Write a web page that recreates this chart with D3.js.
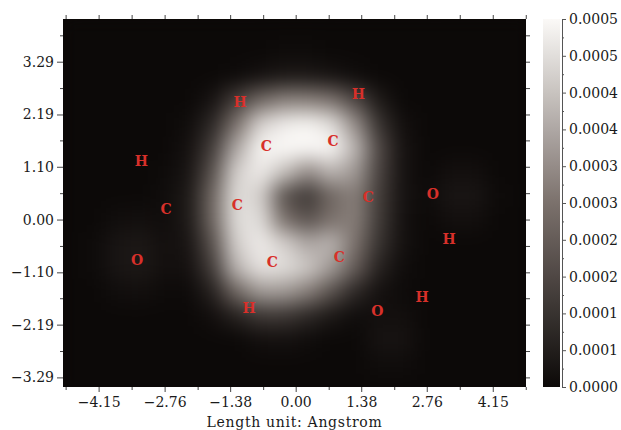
<!DOCTYPE html>
<html>
<head>
<meta charset="utf-8">
<script src="https://cdn.jsdelivr.net/npm/d3@7"></script>
<style>
  body { margin: 0; background: #fff; }
  text { font-family: "DejaVu Serif", serif; }
</style>
</head>
<body>
<svg width="621" height="430"></svg>
<script>
// electron density on a 0.5 Angstrom grid, in units of 1e-4
const gridX = [-4.75, -4.25, -3.75, -3.25, -2.75, -2.25, -1.75, -1.25, -0.75, -0.25,
                0.25, 0.75, 1.25, 1.75, 2.25, 2.75, 3.25, 3.75, 4.25, 4.75];
const gridY = [4.0, 3.5, 3.0, 2.5, 2.0, 1.5, 1.0, 0.5, 0.0, -0.5, -1.0, -1.5, -2.0, -2.5, -3.0, -3.5];
const density = [
  [0,0,0,0,0,0,0,0,0,0,0,0,0,0,0,0,0,0,0,0],
  [0,0,0,0,0,0,0,0,0,0.05,0.05,0,0,0,0,0,0,0,0,0],
  [0,0,0,0,0,0,0,0.05,0.2,0.35,0.35,0.25,0.1,0,0,0,0,0,0,0],
  [0,0,0,0,0,0,0.25,1.25,2.25,2.75,2.75,2.5,1.5,0.4,0,0,0,0,0,0],
  [0,0,0,0,0,0.1,0.75,2.5,4.25,4.75,4.9,4.5,3.0,1.0,0.15,0,0,0,0,0],
  [0,0,0,0,0,0.2,1.25,3.5,4.9,5.2,5.2,5.1,3.75,1.5,0.25,0,0,0,0,0],
  [0,0,0,0,0.05,0.3,1.75,4.25,4.75,4.0,3.0,3.75,3.25,1.4,0.25,0,0.15,0.15,0,0],
  [0,0,0,0,0.1,0.4,2.25,4.5,4.25,1.75,1.1,2.25,2.75,1.25,0.25,0.05,0.3,0.3,0.05,0],
  [0,0,0.12,0.15,0.1,0.4,2.25,4.5,4.5,2.5,1.75,2.5,2.75,1.2,0.2,0,0.15,0.15,0,0],
  [0,0.05,0.3,0.35,0.15,0.3,1.75,4.25,4.75,4.25,3.5,3.75,2.5,1.0,0.2,0,0,0,0,0],
  [0,0.05,0.3,0.35,0.15,0.2,1.25,3.75,4.6,4.5,4.1,3.25,2.0,0.6,0.1,0,0,0,0,0],
  [0,0,0.12,0.15,0.05,0.05,0.6,2.25,3.25,3.25,2.75,1.75,0.75,0.2,0.05,0,0,0,0,0],
  [0,0,0,0,0,0,0.15,0.6,1.1,1.1,0.75,0.35,0.1,0.15,0.15,0,0,0,0,0],
  [0,0,0,0,0,0,0,0,0.15,0.2,0.1,0,0,0.25,0.25,0,0,0,0,0],
  [0,0,0,0,0,0,0,0,0,0,0,0,0,0.1,0.1,0,0,0,0,0],
  [0,0,0,0,0,0,0,0,0,0,0,0,0,0,0,0,0,0,0,0]
];

// atom labels (Angstrom)
const atomLabels = ["H","H","C","C","H","C","C","C","O","H","O","C","C","H","H","O"];
const atomX = [-1.17, 1.32, -0.62, 0.79, -3.25, -2.73, -1.23, 1.53, 2.89, 3.23, -3.34, -0.49, 0.92, -0.98, 2.66, 1.72];
const atomY = [2.46, 2.61, 1.54, 1.63, 1.21, 0.23, 0.31, 0.46, 0.54, -0.40, -0.84, -0.88, -0.79, -1.84, -1.61, -1.90];

const xTicks = [-4.15, -2.76, -1.38, 0, 1.38, 2.76, 4.15];
const yTicks = [-3.29, -2.19, -1.10, 0, 1.10, 2.19, 3.29];
const colorTicks = [0, 0.5, 1, 1.5, 2, 2.5, 3, 3.5, 4, 4.5, 5];
const colorTickLabels = ["0.0000","0.0001","0.0001","0.0002","0.0002","0.0003",
                         "0.0003","0.0004","0.0004","0.0005","0.0005"];

var svg = d3.select("svg");
var plotLeft = 63, plotRight = 526, plotTop = 19, plotBottom = 387;

var x = d3.scaleLinear().domain([-4.9, 4.85]).range([plotLeft, plotRight]);
var y = d3.scaleLinear().domain([-3.49, 4.18]).range([plotBottom, plotTop]);

var color = d3.scaleLinear()
  .domain([0, 2.5, 5])
  .range(["#0c0908", "#7b716c", "#fbf9f7"])
  .clamp(true);

// minor ticks half way between the major ones
function minors(t, dom) {
  var step = (t[1] - t[0]) / 2;
  var out = [t[0] - step];
  t.forEach(v => out.push(v + step));
  return out.filter(v => v >= dom[0] && v <= dom[1]);
}

// plot area
var defs = svg.append("defs");
defs.append("clipPath").attr("id", "plotclip")
  .append("rect").attr("x", plotLeft).attr("y", plotTop)
  .attr("width", plotRight - plotLeft).attr("height", plotBottom - plotTop);

var blur = defs.append("filter").attr("id", "smooth")
  .attr("x", "-10%").attr("y", "-10%").attr("width", "120%").attr("height", "120%")
  .attr("color-interpolation-filters", "sRGB");
blur.append("feGaussianBlur").attr("stdDeviation", 10);

var plot = svg.append("g").attr("clip-path", "url(#plotclip)");
plot.append("rect")
  .attr("x", plotLeft).attr("y", plotTop)
  .attr("width", plotRight - plotLeft).attr("height", plotBottom - plotTop)
  .attr("fill", color(0));

var cells = [];
density.forEach((row, i) => row.forEach((v, j) => cells.push({x: gridX[j], y: gridY[i], v: v})));

plot.append("g").attr("filter", "url(#smooth)")
  .selectAll("rect")
  .data(cells)
  .enter()
  .append("rect")
  .attr("x", d => x(d.x - 0.25))
  .attr("y", d => y(d.y + 0.25))
  .attr("width", d => x(d.x + 0.25) - x(d.x - 0.25) + 0.5)
  .attr("height", d => y(d.y - 0.25) - y(d.y + 0.25) + 0.5)
  .attr("fill", d => color(d.v));

// atom labels
svg.append("g")
  .selectAll("text")
  .data(atomLabels)
  .enter()
  .append("text")
  .attr("x", (d, i) => x(atomX[i]))
  .attr("y", (d, i) => y(atomY[i]))
  .attr("text-anchor", "middle")
  .attr("dominant-baseline", "central")
  .attr("font-size", 14)
  .attr("font-weight", "bold")
  .attr("fill", "#d8302a")
  .text(d => d);

// axes
function styleAxis(g) {
  g.select(".domain").remove();
  g.selectAll("line").attr("stroke", "#444");
  g.selectAll("text").attr("font-size", 14).attr("fill", "#1a1a1a")
    .attr("font-family", "DejaVu Serif");
}
var fmt = d => d3.format(".2f")(d);

svg.append("g").attr("transform", `translate(0,${plotBottom})`)
  .call(d3.axisBottom(x).tickValues(xTicks).tickFormat(fmt).tickSize(5).tickPadding(5))
  .call(styleAxis);
svg.append("g").attr("transform", `translate(0,${plotBottom})`)
  .call(d3.axisBottom(x).tickValues(minors(xTicks, x.domain())).tickFormat("").tickSize(3))
  .call(styleAxis);
svg.append("g").attr("transform", `translate(0,${plotTop})`)
  .call(d3.axisTop(x).tickValues(xTicks.concat(minors(xTicks, x.domain()))).tickFormat("").tickSize(4))
  .call(styleAxis);

svg.append("g").attr("transform", `translate(${plotLeft},0)`)
  .call(d3.axisLeft(y).tickValues(yTicks).tickFormat(fmt).tickSize(6).tickPadding(3))
  .call(styleAxis);
svg.append("g").attr("transform", `translate(${plotLeft},0)`)
  .call(d3.axisLeft(y).tickValues(minors(yTicks, y.domain())).tickFormat("").tickSize(3))
  .call(styleAxis);
svg.append("g").attr("transform", `translate(${plotRight},0)`)
  .call(d3.axisRight(y).tickValues(yTicks.concat(minors(yTicks, y.domain()))).tickFormat("").tickSize(4))
  .call(styleAxis);

svg.append("text")
  .attr("x", (plotLeft + plotRight) / 2)
  .attr("y", 427)
  .attr("text-anchor", "middle")
  .attr("font-size", 14)
  .attr("letter-spacing", 0.7)
  .attr("fill", "#1a1a1a")
  .text("Length unit: Angstrom");

// colour bar
var cb = d3.scaleLinear().domain([0, 5]).range([plotBottom, plotTop]);
var grad = defs.append("linearGradient").attr("id", "cbgrad")
  .attr("x1", 0).attr("y1", 1).attr("x2", 0).attr("y2", 0);
grad.selectAll("stop")
  .data(d3.range(0, 1.0001, 0.1))
  .enter()
  .append("stop")
  .attr("offset", d => d)
  .attr("stop-color", d => color(d * 5));

svg.append("rect")
  .attr("x", 543).attr("y", plotTop)
  .attr("width", 17).attr("height", plotBottom - plotTop)
  .attr("fill", "url(#cbgrad)");

var cbAxis = svg.append("g").attr("transform", "translate(562,0)")
  .call(d3.axisRight(cb).tickValues(colorTicks)
        .tickFormat((d, i) => colorTickLabels[i]).tickSize(4).tickSizeOuter(4).tickPadding(3));
cbAxis.select(".domain").attr("stroke", "#555");
cbAxis.selectAll("line").attr("stroke", "#555");
cbAxis.selectAll("text").attr("font-size", 14).attr("fill", "#1a1a1a")
  .attr("font-family", "DejaVu Serif");
svg.append("g").attr("transform", "translate(562,0)")
  .call(d3.axisRight(cb).tickValues(minors(colorTicks, cb.domain())).tickFormat("").tickSize(2))
  .call(g => g.select(".domain").remove())
  .call(g => g.selectAll("line").attr("stroke", "#555"));
</script>
</body>
</html>
